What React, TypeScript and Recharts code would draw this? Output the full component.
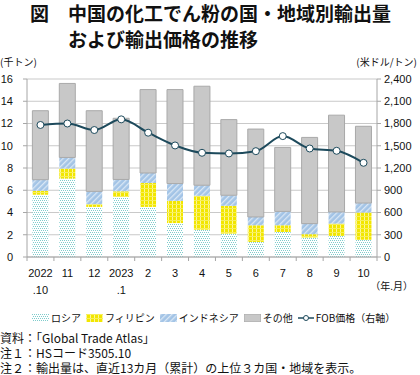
import React from "react";
import {
  ComposedChart,
  Bar,
  Line,
  XAxis,
  YAxis,
  CartesianGrid,
} from "recharts";

// 月 (2022.10 - 2023.10)
const months = [
  "2022.10", "2022.11", "2022.12", "2023.1", "2023.2", "2023.3", "2023.4",
  "2023.5", "2023.6", "2023.7", "2023.8", "2023.9", "2023.10",
];
const tickTop = ["2022", "11", "12", "2023", "2", "3", "4", "5", "6", "7", "8", "9", "10"];
const tickBottom = [".10", "", "", ".1", "", "", "", "", "", "", "", "", ""];

// 千トン
const russia = [5.6, 7.05, 4.5, 5.4, 4.5, 3.05, 2.45, 2.1, 1.35, 2.25, 1.75, 1.9, 1.55];
const philippines = [0.35, 0.9, 0.25, 0.5, 2.15, 2.0, 3.05, 2.5, 1.5, 0.6, 0.3, 1.1, 2.45];
const indonesia = [1.0, 1.0, 1.15, 1.07, 0.9, 1.55, 0.95, 0.95, 0.75, 1.25, 0.95, 1.05, 0.85];
const others = [6.2, 6.65, 7.25, 5.5, 7.5, 8.45, 8.9, 6.8, 7.9, 5.75, 7.75, 8.7, 6.9];
// 米ドル/トン
const fobPrice = [1780, 1800, 1712, 1856, 1676, 1504, 1405, 1396, 1427, 1630, 1463, 1432, 1270];

const leftTicks = [0, 2, 4, 6, 8, 10, 12, 14, 16];
const rightTicks = [0, 300, 600, 900, 1200, 1500, 1800, 2100, 2400];

const data = months.map((m, i) => ({
  month: m,
  russia: russia[i],
  philippines: philippines[i],
  indonesia: indonesia[i],
  others: others[i],
  fob: fobPrice[i],
}));

const W = 420;
const H = 375;
const PLOT_LEFT = 27;
const PLOT_RIGHT = 377;
const AXIS_Y = 257;
const BAND = (PLOT_RIGHT - PLOT_LEFT) / months.length;

const NUM_FONT = '"Liberation Sans", Arial, "Noto Sans CJK JP", sans-serif';
const JP_FONT = '"Noto Sans CJK JP", "Liberation Sans", sans-serif';
const LINE_COLOR = "#1d4a5c";
const AXIS_COLOR = "#a6a6a6";

function MonthTick(props: any) {
  const { x, payload } = props;
  const i = payload.index;
  return (
    <g>
      <line x1={x - BAND / 2} x2={x - BAND / 2} y1={AXIS_Y} y2={AXIS_Y + 4} stroke={AXIS_COLOR} />
      {i === months.length - 1 && (
        <line x1={x + BAND / 2} x2={x + BAND / 2} y1={AXIS_Y} y2={AXIS_Y + 4} stroke={AXIS_COLOR} />
      )}
      <text x={x} y={AXIS_Y + 20} textAnchor="middle" fontSize={11} fill="#111" fontFamily={NUM_FONT}>
        {tickTop[i]}
      </text>
      {tickBottom[i] && (
        <text x={x} y={AXIS_Y + 37} textAnchor="middle" fontSize={11} fill="#111" fontFamily={NUM_FONT}>
          {tickBottom[i]}
        </text>
      )}
    </g>
  );
}

function Patterns() {
  return (
    <svg width={0} height={0} style={{ position: "absolute" }}>
      <defs>
        <pattern id="pat-ru" width={4} height={4} patternUnits="userSpaceOnUse">
          <rect width={4} height={4} fill="#ffffff" />
          <rect x={0} y={0} width={1} height={1} fill="#7fcccc" />
          <rect x={2} y={0} width={1} height={1} fill="#7fcccc" />
          <rect x={1} y={2} width={1} height={1} fill="#7fcccc" />
          <rect x={3} y={2} width={1} height={1} fill="#7fcccc" />
        </pattern>
        <pattern id="pat-ph" width={4} height={4} patternUnits="userSpaceOnUse">
          <rect width={4} height={4} fill="#f2e600" />
          <rect x={0} y={0} width={1} height={4} fill="#fbf79a" />
          <rect x={0} y={0} width={4} height={1} fill="#f7ef5a" />
        </pattern>
        <pattern id="pat-id" width={4} height={4} patternUnits="userSpaceOnUse" patternTransform="rotate(45)">
          <rect width={4} height={4} fill="#a3c4e6" />
          <rect x={0} y={0} width={1.3} height={4} fill="#d9e7f5" />
        </pattern>
      </defs>
    </svg>
  );
}

const legendItems = [
  { name: "ロシア", fill: "url(#pat-ru)" },
  { name: "フィリピン", fill: "url(#pat-ph)" },
  { name: "インドネシア", fill: "url(#pat-id)" },
  { name: "その他", fill: "#c8c8c8" },
];

export default function App() {
  return (
    <div
      style={{
        position: "absolute",
        left: 0,
        top: 0,
        width: W,
        height: H,
        background: "#fff",
        overflow: "hidden",
        fontFamily: JP_FONT,
        color: "#111",
      }}
    >
      <Patterns />

      {/* Title */}
      <div style={{ position: "absolute", left: 30, top: 1, fontSize: 19, fontWeight: 700, lineHeight: "24px", whiteSpace: "nowrap" }}>
        図　中国の化工でん粉の国・地域別輸出量
      </div>
      <div style={{ position: "absolute", left: 68, top: 27, fontSize: 19, fontWeight: 700, lineHeight: "24px", whiteSpace: "nowrap" }}>
        および輸出価格の推移
      </div>

      {/* Axis units */}
      <div style={{ position: "absolute", left: 0, top: 55, fontSize: 10, lineHeight: "14px", whiteSpace: "nowrap" }}>
        (千トン)
      </div>
      <div style={{ position: "absolute", right: 3, top: 55, fontSize: 10, lineHeight: "14px", whiteSpace: "nowrap" }}>
        (米ドル/トン)
      </div>

      <div style={{ position: "absolute", left: 0, top: 0 }}>
        <ComposedChart
          width={W}
          height={300}
          data={data}
          margin={{ top: 79, right: 0, left: 0, bottom: 8 }}
          barCategoryGap="20%"
        >
          <CartesianGrid vertical={false} stroke="#c9c9c9" yAxisId="left" />
          <XAxis
            dataKey="month"
            interval={0}
            height={35}
            tickLine={false}
            axisLine={{ stroke: AXIS_COLOR }}
            tick={<MonthTick />}
          />
          <YAxis
            yAxisId="left"
            orientation="left"
            width={27}
            domain={[0, 16]}
            ticks={leftTicks}
            interval={0}
            tickSize={4}
            tickMargin={10}
            tickLine={{ stroke: AXIS_COLOR }}
            axisLine={{ stroke: AXIS_COLOR }}
            tick={{ fontSize: 11, fill: "#111", fontFamily: NUM_FONT }}
          />
          <YAxis
            yAxisId="right"
            orientation="right"
            width={43}
            domain={[0, 2400]}
            ticks={rightTicks}
            interval={0}
            tickSize={4}
            tickMargin={3}
            tickLine={{ stroke: AXIS_COLOR }}
            axisLine={{ stroke: AXIS_COLOR }}
            tickFormatter={(v: number) => v.toLocaleString("en-US")}
            tick={{ fontSize: 11, fill: "#111", fontFamily: NUM_FONT }}
          />
          <Bar yAxisId="left" dataKey="russia" stackId="a" fill="url(#pat-ru)" isAnimationActive={false} />
          <Bar yAxisId="left" dataKey="philippines" stackId="a" fill="url(#pat-ph)" isAnimationActive={false} />
          <Bar yAxisId="left" dataKey="indonesia" stackId="a" fill="url(#pat-id)" isAnimationActive={false} />
          <Bar yAxisId="left" dataKey="others" stackId="a" fill="#c8c8c8" stroke="#a9a9a9" strokeWidth={1} isAnimationActive={false} />
          <Line
            yAxisId="right"
            dataKey="fob"
            type="monotone"
            stroke={LINE_COLOR}
            strokeWidth={2}
            dot={{ r: 3.5, fill: "#fff", stroke: LINE_COLOR, strokeWidth: 1 }}
            activeDot={false}
            isAnimationActive={false}
          />
        </ComposedChart>
      </div>

      {/* 年.月 */}
      <div style={{ position: "absolute", right: 7, top: 279, fontSize: 10, lineHeight: "14px", whiteSpace: "nowrap" }}>
        （年.月）
      </div>

      {/* Legend */}
      <div
        style={{
          position: "absolute",
          left: 32,
          top: 311,
          display: "flex",
          alignItems: "center",
          gap: 5,
          fontSize: 10,
          lineHeight: "14px",
          whiteSpace: "nowrap",
        }}
      >
        {legendItems.map((item) => (
          <div key={item.name} style={{ display: "flex", alignItems: "center", gap: 2 }}>
            <svg width={17} height={8}>
              <rect x={0} y={0} width={17} height={8} fill={item.fill} stroke={item.name === "その他" ? "#a9a9a9" : "none"} />
            </svg>
            <span>{item.name}</span>
          </div>
        ))}
        <div style={{ display: "flex", alignItems: "center", gap: 2 }}>
          <svg width={16} height={8}>
            <line x1={0} x2={16} y1={4} y2={4} stroke={LINE_COLOR} strokeWidth={1.5} />
            <circle cx={8} cy={4} r={2.5} fill="#fff" stroke={LINE_COLOR} strokeWidth={1} />
          </svg>
          <span>FOB価格（右軸）</span>
        </div>
      </div>

      {/* Notes */}
      <div style={{ position: "absolute", left: 0, top: 330, fontSize: 12, lineHeight: "15px", whiteSpace: "nowrap" }}>
        <div>資料：「Global Trade Atlas」</div>
        <div>注１：HSコード3505.10</div>
        <div>注２：輸出量は、直近13カ月（累計）の上位３カ国・地域を表示。</div>
      </div>
    </div>
  );
}
